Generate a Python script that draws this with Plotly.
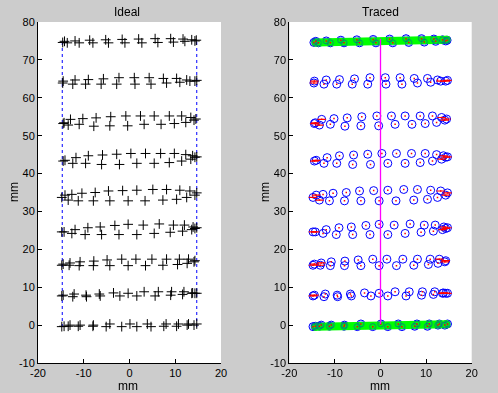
import plotly.graph_objects as go

# ---------------- data (mm) ----------------
row75_x = [-14.2, -11.9, -8.7, -5.2, -1.6, 2.0, 5.6, 9.0, 11.7, 13.6, 14.6,
           -14.6, -13.6, -11.0, -8.0, -4.6, -1.0, 2.7, 6.2, 9.6, 12.1, 14.3]
row75_y = [74.9, 75.0, 75.2, 75.3, 75.4, 75.5, 75.6, 75.6, 75.5, 75.3, 75.2,
           74.6, 74.5, 74.5, 74.5, 74.5, 74.5, 74.5, 74.6, 74.7, 74.9, 75.0]

row64_x = [-14.5, -11.9, -9.0, -5.7, -2.3, 1.05, 4.3, 7.4, 10.3, 12.5, 14.7,
           -14.6, -12.4, -9.6, -6.2, -2.8, 1.2, 4.7, 8.1, 11.0, 13.2, 14.3]
row64_y = [64.4, 64.7, 64.8, 65.0, 65.3, 65.3, 65.3, 65.1, 65.1, 64.7, 64.6,
           63.9, 63.6, 63.6, 63.6, 63.6, 63.6, 63.6, 63.9, 64.1, 64.4, 64.4]

row54_x = [-14.3, -12.9, -10.2, -7.3, -4.1, -0.8, 2.4, 5.4, 8.7, 11.4, 13.4, 14.5,
           -14.5, -13.4, -11.0, -7.8, -4.3, -0.4, 3.2, 6.9, 9.8, 12.3, 14.1]
row54_y = [53.4, 54.3, 54.5, 54.7, 55.0, 55.2, 55.2, 55.2, 55.2, 55.2, 54.8, 54.4,
           53.2, 52.8, 53.0, 52.5, 52.6, 52.6, 53.0, 53.0, 53.2, 53.5, 54.1]

row44_x = [-14.1, -11.7, -9.0, -5.9, -2.8, 0.3, 3.5, 6.8, 9.8, 12.3, 13.8, 14.7,
           -14.5, -12.4, -9.6, -6.1, -2.2, 1.6, 5.4, 8.7, 11.4, 13.4, 14.3]
row44_y = [43.5, 44.2, 44.7, 44.9, 45.1, 45.3, 45.3, 45.3, 45.3, 45.0, 44.7, 44.4,
           43.3, 42.7, 42.7, 42.4, 42.4, 42.7, 42.7, 42.9, 43.3, 43.8, 44.3]

row34_x = [-14.1, -12.6, -10.4, -7.5, -4.6, -1.5, 1.6, 5.1, 8.1, 11.0, 13.2, 14.7,
           -14.8, -13.4, -11.2, -7.9, -4.3, -0.3, 3.4, 7.3, 10.3, 12.5, 14.3]
row34_y = [34.3, 34.5, 34.8, 35.0, 35.4, 35.5, 35.6, 35.8, 35.8, 35.6, 35.4, 34.9,
           33.7, 33.0, 32.8, 32.8, 32.8, 32.8, 32.8, 33.0, 33.2, 33.7, 34.3]

row25_x = [-14.3, -11.9, -9.1, -6.4, -3.2, -0.3, 3.0, 6.5, 9.6, 12.0, 13.9, 14.7,
           -14.8, -12.6, -9.7, -6.1, -2.3, 1.6, 5.4, 8.9, 11.6, 13.6, 14.3]
row25_y = [24.6, 25.2, 25.7, 25.9, 26.3, 26.6, 26.4, 26.7, 26.4, 26.4, 25.9, 25.7,
           24.6, 24.2, 23.9, 23.9, 23.9, 23.9, 24.2, 24.5, 24.8, 25.2, 25.5]

row16_x = [-14.5, -13.0, -10.8, -7.8, -4.9, -1.7, 1.4, 4.9, 8.1, 10.9, 12.9, 14.3,
           -14.8, -13.2, -11.0, -7.9, -4.3, -0.3, 3.5, 7.3, 10.5, 12.6, 14.1]
row16_y = [16.1, 16.4, 16.7, 16.9, 17.2, 17.4, 17.4, 17.4, 17.4, 17.4, 17.4, 17.0,
           15.8, 15.8, 15.7, 15.7, 15.7, 15.7, 15.7, 15.8, 16.0, 16.3, 16.7]

row8_x = [-14.5, -12.1, -9.5, -6.6, -3.5, -0.3, 3.2, 6.3, 9.2, 11.9, 13.8, 14.7,
          -14.8, -12.4, -9.4, -6.4, -2.1, 1.6, 5.6, 9.0, 11.6, 13.6, 14.3]
row8_y = [7.9, 8.2, 7.9, 8.2, 8.5, 8.4, 8.8, 8.8, 8.8, 8.8, 8.5, 8.4,
          7.7, 7.5, 7.5, 7.7, 7.7, 7.7, 7.7, 7.9, 8.1, 8.4, 8.4]

row0_x = [-14.3, -13.0, -10.8, -7.9, -4.3, 0.1, 3.9, 8.0, 10.7, 12.9, 14.7,
          -14.8, -13.4, -11.2, -8.0, -5.1, -1.7, 1.6, 4.7, 7.5, 10.3, 12.6, 14.1]
row0_y = [-0.3, 0.0, 0.0, 0.0, 0.3, 0.3, 0.3, 0.3, 0.3, 0.3, 0.3,
          -0.4, -0.3, -0.3, -0.3, -0.4, -0.4, -0.4, -0.4, -0.3, -0.3, 0.0, 0.0]

# ideal boundary (blue dotted)
border_left_x = [-14.7, -14.7]
border_right_x = [14.7, 14.7]
border_y = [-0.5, 74.8]

# traced: dense green bands on first/last row, magenta centre line
band75_x = [-14.3, 14.5]
band75_y = [74.6, 75.3]
band0_x = [-14.3, 14.5]
band0_y = [-0.4, 0.2]
center_x = [0, 0]
center_y = [0.3, 75.6]

x_ticks = [-20, -10, 0, 10, 20]
x_tick_labels = ["-20", "-10", "0", "10", "20"]
y_ticks = [-10, 0, 10, 20, 30, 40, 50, 60, 70, 80]
y_tick_labels = ["-10", "0", "10", "20", "30", "40", "50", "60", "70", "80"]

rows_x = [row75_x, row64_x, row54_x, row44_x, row34_x, row25_x, row16_x, row8_x, row0_x]
rows_y = [row75_y, row64_y, row54_y, row44_y, row34_y, row25_y, row16_y, row8_y, row0_y]

all_x = [v for r in rows_x for v in r]
all_y = [v for r in rows_y for v in r]
mid_x = [v for r in rows_x[1:-1] for v in r]
mid_y = [v for r in rows_y[1:-1] for v in r]
edge_x = [v for v in mid_x if abs(v) > 12.8]
edge_y = [mid_y[i] for i, v in enumerate(mid_x) if abs(v) > 12.8]

fig = go.Figure()

# ---- Ideal ----
for bx in (border_left_x, border_right_x):
    fig.add_trace(go.Scatter(x=bx, y=border_y, mode="lines",
                             line=dict(color="#0000ff", width=1, dash="dot"),
                             xaxis="x", yaxis="y", hoverinfo="skip"))
fig.add_trace(go.Scatter(x=all_x, y=all_y, mode="markers",
                         marker=dict(symbol="cross-thin-open", size=7, color="black",
                                     line=dict(color="black", width=1)),
                         xaxis="x", yaxis="y"))

# ---- Traced ----
fig.add_trace(go.Scatter(x=all_x, y=all_y, mode="markers",
                         marker=dict(symbol="circle-open", size=8, color="#0000ff",
                                     line=dict(color="#0000ff", width=1)),
                         xaxis="x2", yaxis="y2"))
for bx, by in ((band75_x, band75_y), (band0_x, band0_y)):
    fig.add_trace(go.Scatter(x=bx, y=by, mode="lines+markers",
                             line=dict(color="#00ff00", width=8),
                             marker=dict(color="#00ff00", size=8),
                             xaxis="x2", yaxis="y2"))
fig.add_trace(go.Scatter(x=row75_x + row0_x, y=row75_y + row0_y, mode="markers",
                         marker=dict(symbol="circle-open", size=6, color="#0000ff",
                                     line=dict(color="#0000ff", width=0.8)),
                         opacity=0.6,
                         xaxis="x2", yaxis="y2"))
fig.add_trace(go.Scatter(x=edge_x, y=edge_y, mode="markers",
                         marker=dict(symbol="line-ew-open", size=6, color="#ff0000",
                                     line=dict(color="#ff0000", width=1.2)),
                         xaxis="x2", yaxis="y2"))
fig.add_trace(go.Scatter(x=all_x, y=all_y, mode="markers",
                         marker=dict(symbol="square", size=1.5, color="#ff0000",
                                     line=dict(width=0)),
                         xaxis="x2", yaxis="y2"))
fig.add_trace(go.Scatter(x=center_x, y=center_y, mode="lines",
                         line=dict(color="#ff00ff", width=1.3),
                         xaxis="x2", yaxis="y2"))

axis_common = dict(showgrid=False, zeroline=False, showline=True, linecolor="black",
                   linewidth=1, ticks="inside", ticklen=4, tickcolor="black",
                   tickfont=dict(family="Liberation Sans, Arial, sans-serif", size=11,
                                 color="black"),
                   mirror=False, automargin=False)

fig.update_layout(
    template="none",
    width=498, height=393,
    margin=dict(l=0, r=0, t=0, b=0, pad=0),
    paper_bgcolor="#cccccc",
    plot_bgcolor="white",
    showlegend=False,
    xaxis=dict(domain=[38 / 498, 221 / 498], range=[-20, 20], anchor="y",
               tickvals=x_ticks, ticktext=x_tick_labels, **axis_common),
    yaxis=dict(domain=[1 - 363 / 393, 1 - 22 / 393], range=[-10, 80], anchor="x",
               tickvals=y_ticks, ticktext=y_tick_labels, **axis_common),
    xaxis2=dict(domain=[289.3 / 498, 471.7 / 498], range=[-20, 20], anchor="y2",
                tickvals=x_ticks, ticktext=x_tick_labels, **axis_common),
    yaxis2=dict(domain=[1 - 363 / 393, 1 - 22 / 393], range=[-10, 80], anchor="x2",
                tickvals=y_ticks, ticktext=y_tick_labels, **axis_common),
)

font = dict(family="Liberation Sans, Arial, sans-serif", size=12, color="black")
annotations = [
    dict(text="Ideal", x=127 / 498, y=1 - 12 / 393),
    dict(text="Traced", x=380.5 / 498, y=1 - 12 / 393),
    dict(text="mm", x=128 / 498, y=1 - 385.5 / 393),
    dict(text="mm", x=380 / 498, y=1 - 385.5 / 393),
    dict(text="mm", x=14 / 498, y=1 - 192 / 393, textangle=-90),
    dict(text="mm", x=265 / 498, y=1 - 192 / 393, textangle=-90),
]
for a in annotations:
    fig.add_annotation(xref="paper", yref="paper", showarrow=False,
                       xanchor="center", yanchor="middle", font=font, **a)

fig.write_html("out.html",
               config={"displayModeBar": False},
               post_script="document.body.style.margin='0px';"
                           "document.body.style.padding='0px';"
                           "document.body.style.overflow='hidden';")
